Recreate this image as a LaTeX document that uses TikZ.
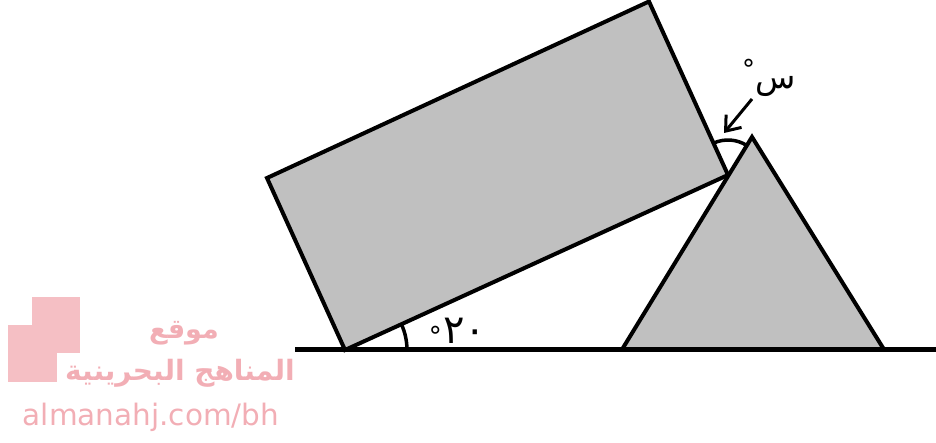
\documentclass[tikz,border=0pt]{standalone}
\usepackage{fontspec}
\usetikzlibrary{angles,arrows.meta}
\TeXXeTstate=1
\newfontfamily\arabicfont[Script=Arabic]{DejaVu Sans}
\newfontfamily\wmfont{DejaVu Sans}
\definecolor{shade}{HTML}{C0C0C0}
\definecolor{wmpink}{HTML}{F5BFC4}
\definecolor{wmtext}{HTML}{F2AEB5}
\tikzset{
  solid/.style={draw=black,line width=4pt,line join=miter,fill=shade},
  mark arc/.style={draw=black,line width=3.5pt,angle radius=#1},
  lbl/.style={inner sep=0pt,text=black},
}
\begin{document}
\begin{tikzpicture}[x=1pt,y=-1pt]
\useasboundingbox (0,0) rectangle (936,443);
% watermark
\fill[wmpink] (32,297) rectangle (80,353);
\fill[wmpink] (8,325) rectangle (57,382);
\node[inner sep=0pt,text=wmtext,font=\arabicfont\bfseries\fontsize{27}{29}\selectfont] (wm1) at (184,333) {\beginR موقع\endR};
\node[inner sep=0pt,text=wmtext,font=\arabicfont\bfseries\fontsize{28}{30}\selectfont] (wm2) at (180,373) {\beginR المناهج البحرينية\endR};
\node[inner sep=0pt,text=wmtext,font=\wmfont\fontsize{29.5}{31}\selectfont] (wm3) at (151,417) {almanahj.com/bh};
% coordinates
\coordinate (A) at (345,350);
\coordinate (B) at (267,178);
\coordinate (C) at (649,1.5);
\coordinate (D) at (728,175);
\coordinate (E) at (622,349.5);
\coordinate (F) at (752,137);
\coordinate (G) at (884,349.5);
\coordinate (gL) at (295,349.5);
\coordinate (gR) at (936,349.5);
\coordinate (arrS) at (752,99);
\coordinate (arrE) at (724,133);
% shapes
\path[solid] (A) -- (B) -- (C) -- (D) -- cycle;
\path[solid] (E) -- (F) -- (G) -- cycle;
\draw[line width=4.5pt] (gL) -- (gR);
% angle arcs
\pic[mark arc=62pt] {angle = gR--A--D};
\pic[mark arc=35pt] {angle = F--D--C};
% arrow
\draw[line width=3pt,-{Straight Barb[length=13pt,width=20pt]}] (arrS) -- (arrE);
% labels
\node[lbl,anchor=west,font=\arabicfont\fontsize{40}{42}\selectfont] (l20) at (443,331) {٢٠};
\node[lbl,anchor=east,font=\wmfont\fontsize{26}{28}\selectfont] (d20) at (442,336) {°};
\node[lbl,font=\arabicfont\fontsize{33}{35}\selectfont] (lx) at (776,86) {\beginR س\endR};
\node[lbl,font=\wmfont\fontsize{26}{28}\selectfont] (dx) at (748.5,69) {°};
\end{tikzpicture}
\end{document}
